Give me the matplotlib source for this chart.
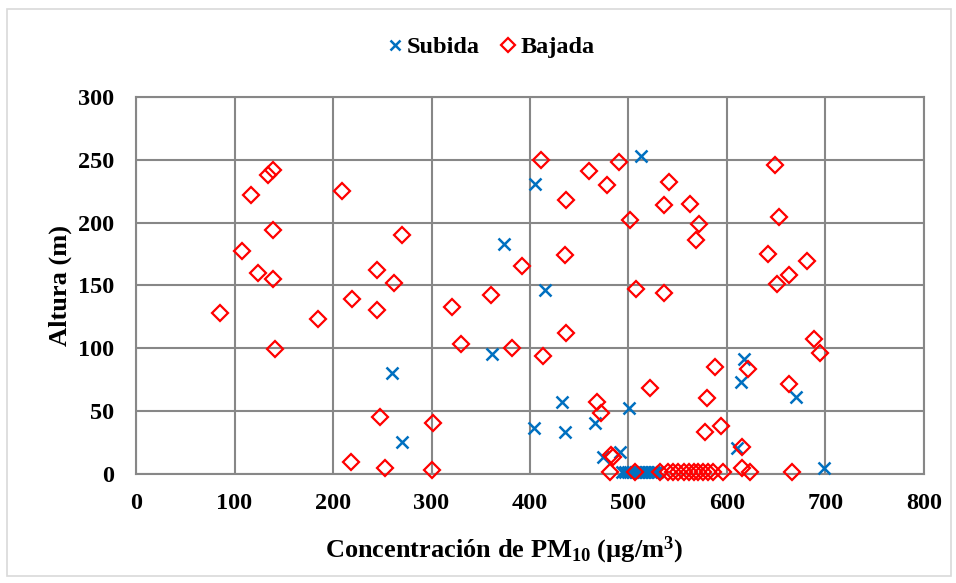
import numpy as np
import matplotlib.pyplot as plt
from matplotlib.patches import Rectangle

# values
subidaX = [260, 270, 361, 374, 405, 415, 404, 432, 436, 466, 474, 491, 501, 513,
           610, 614, 617, 670, 698,
           493, 496, 499, 502, 505, 508, 511, 514, 517, 520, 523, 526, 529]
subidaY = [80, 25, 95, 183, 231, 146, 36, 57, 33, 40, 13, 17, 52, 253,
           20, 73, 91, 61, 4,
           1, 1, 1, 1, 1, 1, 1, 1, 1, 1, 1, 1, 1]

bajadaX = [85, 108, 117, 124, 134, 139, 139, 139, 141, 185, 209, 219, 218, 245,
           245, 248, 253, 262, 270, 302, 301, 321, 330, 360, 382, 392, 411, 413,
           437, 436, 437, 460, 468, 472, 478, 490, 502, 508, 522, 541, 536, 536,
           562, 572, 569, 588, 580, 578, 594, 649, 653, 642, 651, 663, 681, 688,
           694, 663, 621, 615, 482, 484,
           481, 507, 532, 540, 545, 550, 556, 561, 566, 571, 576, 581, 586, 596,
           615, 623, 666]
bajadaY = [128, 177, 222, 160, 238, 242, 194, 155, 99, 123, 225, 139, 9, 162,
           130, 45, 4, 152, 190, 40, 3, 133, 103, 142, 100, 165, 250, 94,
           218, 174, 112, 241, 57, 48, 230, 248, 202, 147, 68, 232, 214, 144,
           215, 199, 186, 85, 60, 33, 38, 246, 204, 175, 151, 158, 169, 107,
           96, 71, 83, 21, 15, 13,
           1, 1, 1, 1, 1, 1, 1, 1, 1, 1, 1, 1, 1, 1,
           4, 1, 1]

xTicks = [0, 100, 200, 300, 400, 500, 600, 700, 800]
yTicks = [0, 50, 100, 150, 200, 250, 300]

plt.rcParams['font.family'] = ['Liberation Serif', 'DejaVu Serif']
plt.rcParams['font.weight'] = 'bold'
plt.rcParams['mathtext.fontset'] = 'custom'
plt.rcParams['mathtext.rm'] = 'Liberation Serif:bold'
plt.rcParams['mathtext.bf'] = 'Liberation Serif:bold'
plt.rcParams['mathtext.it'] = 'Liberation Serif:bold'

fig = plt.figure(figsize=(9.56, 5.83), dpi=100)
ax = fig.add_axes([0.1423, 0.1878, 0.8242, 0.6458])

gridCol = '#878787'
ax.plot(subidaX, subidaY, 'x', color='#0070C0', ms=8, mew=1.8, label='Subida', clip_on=False, zorder=3)
ax.plot(bajadaX, bajadaY, 'D', mfc='none', mec='#FF0000', ms=8.3, mew=1.6, label='Bajada', clip_on=False, zorder=4)

ax.set_xlim(0, 800)
ax.set_ylim(0, 300)
ax.set_xticks(xTicks)
ax.set_yticks(yTicks)
ax.tick_params(axis='x', length=0, labelsize=17.5, pad=14)
ax.tick_params(axis='y', length=0, labelsize=17.5, pad=16)
ax.grid(True, color=gridCol, lw=1.5)
ax.set_axisbelow(True)
for s in ax.spines.values():
    s.set_color(gridCol)
    s.set_linewidth(1.5)

ax.set_xlabel('Concentración de PM$_{\\mathbf{10}}$ (µg/m$^{\\mathbf{3}}$)', fontsize=19, fontweight='bold')
ax.xaxis.set_label_coords(0.467, -0.163)
ax.set_ylabel('Altura (m)', fontsize=19, fontweight='bold', labelpad=4)

fig.legend(loc='center', bbox_to_anchor=(0.513, 0.919), ncol=2, frameon=False,
           fontsize=17.5, handlelength=0.7, handletextpad=0.15, columnspacing=0.8,
           markerscale=0.85)

# light chart border
fig.patches.append(Rectangle((0.007, 0.012), 0.988, 0.972, transform=fig.transFigure,
                             fill=False, edgecolor='#d9d9d9', lw=1.2))

plt.savefig('out.png', dpi=100)
